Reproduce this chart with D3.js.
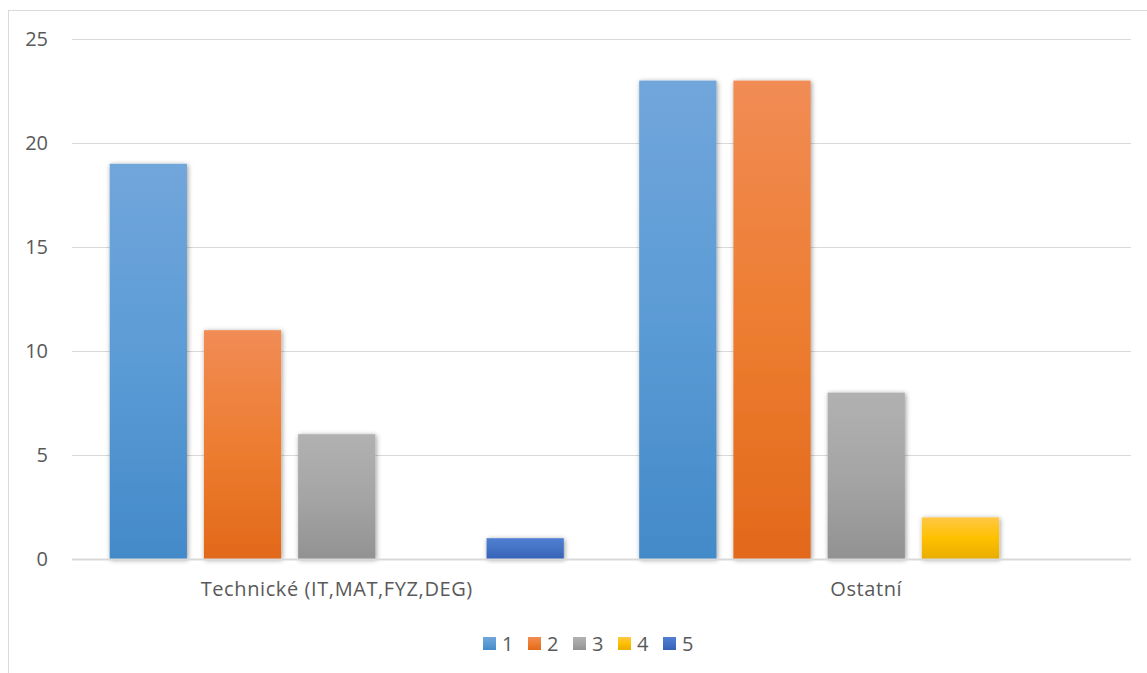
<!DOCTYPE html>
<html>
<head>
<meta charset="utf-8">
<script src="https://cdn.jsdelivr.net/npm/d3@7"></script>
<style>
  html, body { margin: 0; padding: 0; background: #fff; }
  svg { display: block; }
  text { font-family: "Open Sans", "Liberation Sans", sans-serif; fill: #595959; }
</style>
</head>
<body>
<svg id="chart" width="1147" height="673"></svg>
<script>
// Categories and series
const categories = ["Technické (IT,MAT,FYZ,DEG)", "Ostatní"];
const seriesNames = ["1", "2", "3", "4", "5"];
const s1 = [19, 23];
const s2 = [11, 23];
const s3 = [6, 8];
const s4 = [0, 2];
const s5 = [1, 0];
const seriesValues = [s1, s2, s3, s4, s5];
const yTicks = [0, 5, 10, 15, 20, 25];

// Gradient stops per series (top, middle, bottom)
const palettes = [
  ["#71a6db", "#5b9bd5", "#438ac9"],
  ["#f18c55", "#ed7d31", "#e2691b"],
  ["#b1b1b1", "#a5a5a5", "#929292"],
  ["#ffc844", "#ffc000", "#e8ad00"],
  ["#5180d2", "#4472c4", "#3562b8"]
];

const FONT = "'Open Sans', 'Liberation Sans', sans-serif";
const svg = d3.select("#chart");
const W = 1147, H = 673;
const plot = { left: 72, right: 1131, top: 39, bottom: 559 };

// Outer chart frame
svg.append("rect")
  .attr("x", 8.5).attr("y", 10.5)
  .attr("width", W + 10).attr("height", H + 10)
  .attr("fill", "#fff").attr("stroke", "#d9d9d9").attr("stroke-width", 1);

const defs = svg.append("defs");
palettes.forEach((p, i) => {
  const g = defs.append("linearGradient")
    .attr("id", "grad" + i).attr("x1", 0).attr("y1", 0).attr("x2", 0).attr("y2", 1);
  g.append("stop").attr("offset", "0%").attr("stop-color", p[0]);
  g.append("stop").attr("offset", "50%").attr("stop-color", p[1]);
  g.append("stop").attr("offset", "100%").attr("stop-color", p[2]);
});
const shadow = defs.append("filter").attr("id", "shadow")
  .attr("x", "-20%").attr("y", "-20%").attr("width", "140%").attr("height", "140%");
shadow.append("feDropShadow")
  .attr("dx", 1).attr("dy", 1).attr("stdDeviation", 2.5)
  .attr("flood-color", "#000").attr("flood-opacity", 0.4);

const y = d3.scaleLinear().domain([0, 25]).range([plot.bottom, plot.top]);
const x0 = d3.scaleBand().domain(categories).range([plot.left, plot.right]).paddingInner(0).paddingOuter(0);
const x1 = d3.scaleBand().domain(seriesNames).range([0, x0.bandwidth()]).paddingInner(0.18).paddingOuter(0.4);

// Gridlines
svg.append("g")
  .selectAll("line")
  .data(yTicks.filter(t => t > 0))
  .join("line")
  .attr("x1", plot.left).attr("x2", plot.right)
  .attr("y1", d => Math.round(y(d)) + 0.5).attr("y2", d => Math.round(y(d)) + 0.5)
  .attr("stroke", "#d9d9d9").attr("stroke-width", 1);

// Y axis labels
const yAxis = svg.append("g")
  .attr("transform", `translate(${plot.left - 24},0)`)
  .call(d3.axisLeft(y).tickValues(yTicks).tickSize(0).tickPadding(0));
yAxis.select(".domain").remove();
yAxis.selectAll("text")
  .attr("font-size", 20).attr("fill", "#595959").attr("font-family", FONT);

// Bars
const groups = svg.append("g").selectAll("g")
  .data(categories)
  .join("g")
  .attr("transform", d => `translate(${x0(d)},0)`);

groups.selectAll("rect")
  .data((c, ci) => seriesNames.map((s, si) => ({ s, si, v: seriesValues[si][ci] })))
  .join("rect")
  .filter(d => d.v > 0)
  .attr("x", d => x1(d.s))
  .attr("width", x1.bandwidth())
  .attr("y", d => y(d.v))
  .attr("height", d => y(0) - y(d.v))
  .attr("fill", d => `url(#grad${d.si})`)
  .attr("filter", "url(#shadow)");

// X axis line
svg.append("line")
  .attr("x1", plot.left).attr("x2", plot.right)
  .attr("y1", plot.bottom + 0.5).attr("y2", plot.bottom + 0.5)
  .attr("stroke", "#d9d9d9").attr("stroke-width", 2);

// Category labels
const xAxis = svg.append("g")
  .attr("transform", `translate(0,${plot.bottom})`)
  .call(d3.axisBottom(x0).tickSize(0).tickPadding(23));
xAxis.select(".domain").remove();
xAxis.selectAll("text")
  .attr("font-size", 20).attr("fill", "#595959").attr("font-family", FONT)
  .attr("letter-spacing", 0.6);

// Legend
const legend = svg.append("g").attr("transform", "translate(483,637)");
const item = legend.selectAll("g").data(seriesNames).join("g")
  .attr("transform", (d, i) => `translate(${i * 45},0)`);
item.append("rect").attr("width", 13).attr("height", 13)
  .attr("fill", (d, i) => `url(#grad${i})`);
item.append("text").attr("x", 19).attr("y", 7).attr("dy", "0.35em")
  .attr("font-size", 20).attr("font-family", FONT).text(d => d);
</script>
</body>
</html>
